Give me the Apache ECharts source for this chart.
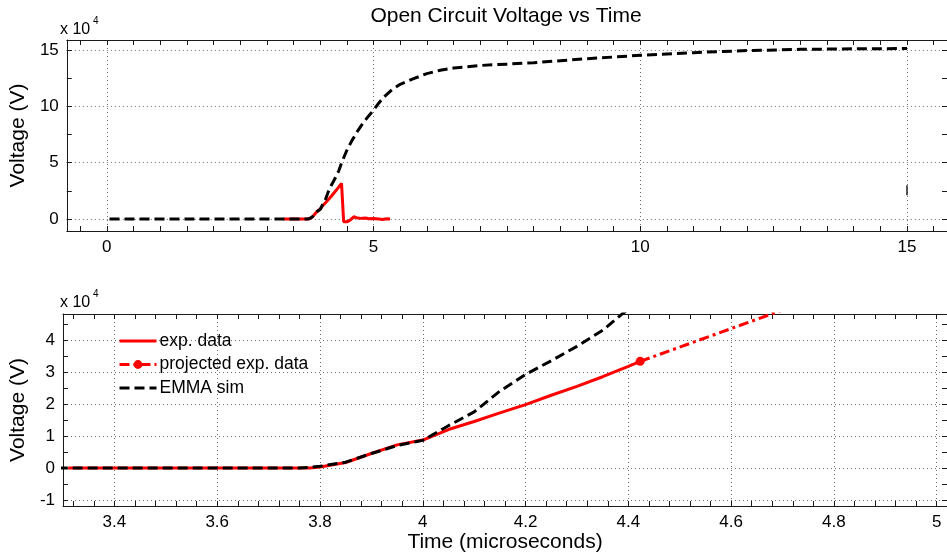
<!DOCTYPE html>
<html>
<head>
<meta charset="utf-8">
<script src="https://cdn.jsdelivr.net/npm/echarts@6/dist/echarts.min.js"></script>
<style>
  html, body { margin: 0; padding: 0; background: #fff; }
  #chart { width: 947px; height: 554px; }
</style>
</head>
<body>
<div id="chart"></div>
<script>
// Voltages are in units of 1e4 V, time in microseconds.

// Measured open-circuit voltage, rising edge up to breakdown
const expTime = [3.31, 3.5, 3.7, 3.78, 3.8, 3.85, 3.9, 3.95, 4.0, 4.05, 4.1, 4.15, 4.2, 4.25, 4.3, 4.35, 4.4, 4.423];
const expVolt = [0, 0, 0, 0, 0.03, 0.17, 0.45, 0.72, 0.87, 1.2, 1.45, 1.72, 1.98, 2.27, 2.55, 2.85, 3.17, 3.33];

// Measured trace after breakdown
const expTailTime = [4.44, 4.5, 4.56, 4.63, 4.68, 4.76, 4.85, 4.91, 5.0, 5.1, 5.16, 5.25, 5.31];
const expTailVolt = [-0.24, -0.25, -0.1, 0.2, 0.12, 0.06, 0.1, 0.03, 0.05, 0.0, -0.03, 0.02, 0.0];

// Straight-line continuation of the measured rise
const projTime = [4.423, 5.0];
const projVolt = [3.33, 6.67];

// EMMA simulation
const simTime = [0.05, 3.3, 3.76, 3.78, 3.8, 3.85, 3.9, 3.95, 4.0, 4.05, 4.1, 4.15, 4.2, 4.25, 4.3, 4.35, 4.387,
                 4.45, 4.5, 4.6, 4.7, 4.8, 4.9, 5.0, 5.1, 5.2, 5.35, 5.5, 5.75, 6.0, 6.25, 6.5, 7.0, 7.5, 8.0,
                 9.0, 10.0, 11.0, 12.0, 13.0, 14.0, 15.0];
const simVolt = [0, 0, 0, 0.02, 0.05, 0.18, 0.45, 0.7, 0.86, 1.32, 1.75, 2.4, 2.92, 3.35, 3.8, 4.3, 4.8,
                 5.55, 6.1, 7.0, 7.8, 8.5, 9.1, 9.65, 10.3, 10.85, 11.5, 11.95, 12.45, 12.9, 13.2, 13.4, 13.62, 13.74, 13.86,
                 14.22, 14.52, 14.76, 14.94, 15.05, 15.1, 15.12];

// Short stray stroke at the end of the upper trace
const glitchTime = [15, 15];
const glitchVolt = [2.1, 3.0];

// Axis ranges and labelled ticks
const topXRange = [-0.75, 15.75];
const topYRange = [-1.06, 15.88];
const zoomXRange = [3.3, 5.02];
const zoomYRange = [-1.19, 4.81];
const topXLabels = [0, 5, 10, 15];
const topYLabels = [0, 5, 10, 15];
const zoomXLabels = [3.4, 3.6, 3.8, 4, 4.2, 4.4, 4.6, 4.8, 5];
const zoomYLabels = [-1, 0, 1, 2, 3, 4];

const legendNames = ['exp. data', 'projected exp. data', 'EMMA sim'];
const legendMarked = ['projected exp. data'];

// Evenly spaced tick marks (labelled and unlabelled)
function steps(from, to, step) {
  const out = [];
  const n = Math.round((to - from) / step);
  for (let i = 0; i <= n; i++) out.push(+(from + i * step).toFixed(6));
  return out;
}
const topXTicks = steps(-0.5, 15.5, 0.5);
const topYTicks = steps(0, 15, 2.5);
const zoomXTicks = steps(3.32, 5.0, 0.04);
const zoomYTicks = steps(-1, 4.5, 0.5);

const pairs = (xs, ys) => xs.map((x, i) => [x, ys[i]]);

const FONT = '"Liberation Sans", Arial, Helvetica, sans-serif';
const INK = '#1a1a1a';
const RED = '#ff0000';
const fmt = v => String(+(+v).toFixed(6));

function mainAxis(grid, pos, range, labels, name, nameGap) {
  return {
    type: 'value', gridIndex: grid, position: pos, min: range[0], max: range[1],
    axisLine: { show: true, onZero: false, lineStyle: { color: INK, width: 1 } },
    axisTick: { show: true, inside: true, length: 5, customValues: labels, lineStyle: { color: INK, width: 1 } },
    axisLabel: { customValues: labels, formatter: fmt, fontSize: 17, color: '#000', fontFamily: FONT, margin: 8 },
    splitLine: { show: true, lineStyle: { color: '#6e6e6e', width: 1, type: [1, 3] } },
    name: name || '', nameLocation: 'middle', nameGap: nameGap || 0,
    nameTextStyle: { fontSize: 21, color: '#000', fontFamily: FONT }
  };
}
function tickAxis(grid, pos, range, ticks, showLine) {
  return {
    type: 'value', gridIndex: grid, position: pos, min: range[0], max: range[1],
    axisLine: { show: showLine, onZero: false, lineStyle: { color: INK, width: 1 } },
    axisTick: { show: true, inside: true, length: 5, customValues: ticks, lineStyle: { color: INK, width: 1 } },
    axisLabel: { show: false },
    splitLine: { show: false }
  };
}

const solidRed = { color: RED, width: 3 };
const dashBlack = { color: '#000', width: 3, type: [10, 5], cap: 'butt' };
const dashDotRed = { color: RED, width: 3, type: [10, 4, 3, 4], cap: 'butt' };

const chart = echarts.init(document.getElementById('chart'), null, { renderer: 'canvas' });
chart.setOption({
  animation: false,
  backgroundColor: '#fff',
  title: {
    text: 'Open Circuit Voltage vs Time', left: 506, top: 6, padding: 0, textAlign: 'center',
    textStyle: { fontSize: 21, fontWeight: 'normal', color: '#000', fontFamily: FONT }
  },
  grid: [
    { left: 60, top: 40, width: 892, height: 191 },
    { left: 60, top: 314, width: 892, height: 192 }
  ],
  xAxis: [
    mainAxis(0, 'bottom', topXRange, topXLabels),
    tickAxis(0, 'bottom', topXRange, topXTicks, false),
    tickAxis(0, 'top', topXRange, topXTicks, true),
    mainAxis(1, 'bottom', zoomXRange, zoomXLabels, 'Time (microseconds)', 21),
    tickAxis(1, 'bottom', zoomXRange, zoomXTicks, false),
    tickAxis(1, 'top', zoomXRange, zoomXTicks, true)
  ],
  yAxis: [
    mainAxis(0, 'left', topYRange, topYLabels, 'Voltage (V)', 25),
    tickAxis(0, 'left', topYRange, topYTicks, false),
    tickAxis(0, 'right', topYRange, topYTicks, true),
    mainAxis(1, 'left', zoomYRange, zoomYLabels, 'Voltage (V)', 25),
    tickAxis(1, 'left', zoomYRange, zoomYTicks, false),
    tickAxis(1, 'right', zoomYRange, zoomYTicks, true)
  ],
  legend: {
    // only the projected trace shows a marker in its key
    data: legendNames.map(n => legendMarked.includes(n) ? { name: n } : { name: n, itemStyle: { opacity: 0 } }),
    orient: 'vertical', left: 118, top: 332, padding: 0,
    itemWidth: 37, itemHeight: 11, itemGap: 5.5, selectedMode: false,
    lineStyle: { width: 'inherit' },
    textStyle: { fontSize: 17.5, color: '#000', fontFamily: FONT, padding: [0, 0, 0, -2] }
  },
  graphic: [
    { type: 'text', left: 60, top: 22, style: { text: 'x 10', font: '16px ' + FONT, fill: '#000' } },
    { type: 'text', left: 93, top: 16, style: { text: '4', font: '10px ' + FONT, fill: '#000' } },
    { type: 'text', left: 60, top: 295, style: { text: 'x 10', font: '16px ' + FONT, fill: '#000' } },
    { type: 'text', left: 93, top: 289, style: { text: '4', font: '10px ' + FONT, fill: '#000' } }
  ],
  series: [
    // upper panel: full time span
    { name: 'exp. data', type: 'line', xAxisIndex: 0, yAxisIndex: 0,
      data: pairs(expTime.concat(expTailTime), expVolt.concat(expTailVolt)),
      symbol: 'none', lineStyle: solidRed, itemStyle: { color: RED } },
    { name: 'EMMA sim', type: 'line', xAxisIndex: 0, yAxisIndex: 0, data: pairs(simTime, simVolt),
      symbol: 'none', lineStyle: dashBlack, itemStyle: { color: '#000' } },
    { name: 'glitch', type: 'line', xAxisIndex: 0, yAxisIndex: 0, data: pairs(glitchTime, glitchVolt),
      symbol: 'none', lineStyle: { color: '#222', width: 1.5 } },
    // lower panel: close-up of the rising edge
    { name: 'exp. data', type: 'line', xAxisIndex: 3, yAxisIndex: 3, data: pairs(expTime, expVolt),
      symbol: 'none', lineStyle: solidRed, itemStyle: { color: RED } },
    { name: 'projected exp. data', type: 'line', xAxisIndex: 3, yAxisIndex: 3, data: pairs(projTime, projVolt),
      symbol: 'circle', symbolSize: 9, showSymbol: true, lineStyle: dashDotRed, itemStyle: { color: RED } },
    { name: 'EMMA sim', type: 'line', xAxisIndex: 3, yAxisIndex: 3, data: pairs(simTime, simVolt),
      symbol: 'none', lineStyle: dashBlack, itemStyle: { color: '#000' } }
  ]
});
</script>
</body>
</html>
